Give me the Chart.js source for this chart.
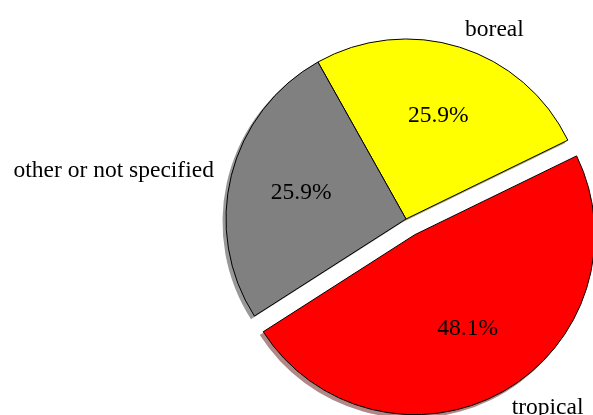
<!DOCTYPE html>
<html>
<head>
<meta charset="utf-8">
<style>
  html, body { margin: 0; padding: 0; background: #ffffff; }
  #wrap { width: 593px; height: 415px; }
</style>
<script src="https://cdn.jsdelivr.net/npm/chart.js@4/dist/chart.umd.min.js"></script>
</head>
<body>
<div id="wrap"><canvas id="pie" width="593" height="415"></canvas></div>
<script>
// Forest type counts
const categories = ['boreal', 'tropical', 'other or not specified'];
const counts = [7, 13, 7];
const sliceColors = ['#ffff00', '#ff0000', '#808080'];
const shadowColors = ['rgb(170,170,120)', 'rgb(176,136,136)', 'rgb(152,152,152)'];
const explodedSlice = 'tropical';

const FONT = '23.5px "Liberation Serif", "Times New Roman", serif';
const total = counts.reduce((a, b) => a + b, 0);

// Pull one slice outward along its middle angle
const explodePlugin = {
  id: 'explode',
  afterDatasetsUpdate(chart) {
    const meta = chart.getDatasetMeta(0);
    const idx = categories.indexOf(explodedSlice);
    const arc = meta.data[idx];
    const mid = (arc.startAngle + arc.endAngle) / 2;
    const dist = 18;
    arc.x += Math.cos(mid) * dist;
    arc.y += Math.sin(mid) * dist;
  }
};

// Flat drop shadow under each slice
const shadowPlugin = {
  id: 'sliceShadow',
  beforeDatasetsDraw(chart) {
    const ctx = chart.ctx;
    const meta = chart.getDatasetMeta(0);
    meta.data.forEach((arc, i) => {
      const dx = -3, dy = 3;
      ctx.save();
      ctx.beginPath();
      ctx.moveTo(arc.x + dx, arc.y + dy);
      ctx.arc(arc.x + dx, arc.y + dy, arc.outerRadius + 0.5, arc.startAngle, arc.endAngle);
      ctx.closePath();
      ctx.fillStyle = shadowColors[i];
      ctx.fill();
      ctx.restore();
    });
  }
};

// Percentages inside the slices, category names outside
const labelPlugin = {
  id: 'sliceLabels',
  afterDatasetsDraw(chart) {
    const ctx = chart.ctx;
    const meta = chart.getDatasetMeta(0);
    ctx.save();
    ctx.font = FONT;
    ctx.fillStyle = '#000000';
    ctx.textBaseline = 'middle';
    meta.data.forEach((arc, i) => {
      const mid = (arc.startAngle + arc.endAngle) / 2;
      const r = arc.outerRadius;
      const c = Math.cos(mid), s = Math.sin(mid);
      const pct = (counts[i] / total * 100).toFixed(1) + '%';
      ctx.textAlign = 'center';
      ctx.fillText(pct, arc.x + c * r * 0.6, arc.y + s * r * 0.6);
      ctx.textAlign = c >= 0 ? 'left' : 'right';
      ctx.fillText(categories[i], arc.x + c * r * 1.1, arc.y + s * r * 1.1);
    });
    ctx.restore();
  }
};

new Chart(document.getElementById('pie'), {
  type: 'pie',
  data: {
    labels: categories,
    datasets: [{
      data: counts,
      backgroundColor: sliceColors,
      borderColor: '#000000',
      borderWidth: 1,
      radius: 180,
      clip: false
    }]
  },
  options: {
    responsive: false,
    animation: false,
    events: [],
    rotation: -29.3,
    layout: { padding: { left: 219, right: 0, top: 23, bottom: 0 } },
    plugins: {
      legend: { display: false },
      tooltip: { enabled: false }
    }
  },
  plugins: [explodePlugin, shadowPlugin, labelPlugin]
});
</script>
</body>
</html>
